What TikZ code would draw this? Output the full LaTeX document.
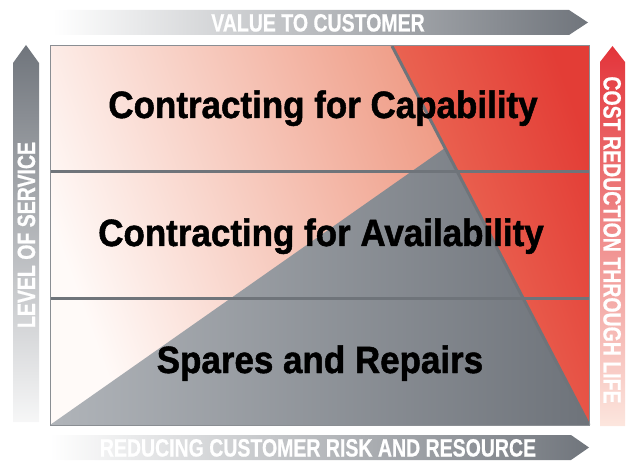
\documentclass[tikz,border=0pt]{standalone}
\usepackage{fontspec}
\setmainfont{Liberation Sans}
\newfontfamily\mainlab[FakeStretch=0.92,FakeBold=1.3]{Liberation Sans Bold}
\newfontfamily\arrlab[FakeStretch=0.78,FakeBold=0.6]{Liberation Sans Bold}
\definecolor{bgwhite}{HTML}{FFFAF8}
\definecolor{bgsalmon}{HTML}{EB8469}
\definecolor{redlight}{HTML}{EE7B62}
\definecolor{reddark}{HTML}{E33D36}
\definecolor{trilight}{HTML}{B0B4B9}
\definecolor{tridark}{HTML}{6E737A}
\definecolor{divgray}{HTML}{6F747A}
\definecolor{outlinegray}{HTML}{8A8E93}
\definecolor{arrgray}{HTML}{70757C}
\definecolor{arrmid}{HTML}{AAAEB3}
\definecolor{arrmidv}{HTML}{9DA1A7}
\definecolor{redtop}{HTML}{E3343A}
\definecolor{redmid}{HTML}{EE7A66}
\definecolor{redbottom}{HTML}{FCE6DE}
\begin{document}
\begin{tikzpicture}[x=1pt,y=1pt,
  biglabel/.style={font=\mainlab\fontsize{38}{38}\selectfont, text=black, inner sep=0pt, anchor=base},
  arrowlabel/.style={font=\arrlab\fontsize{25}{25}\selectfont, text=white, inner sep=0pt, anchor=base},
  divider/.style={draw=divgray, line width=3pt},
]
\useasboundingbox (0,0) rectangle (629,461);
% background of the grid
\path[left color=bgwhite, right color=bgsalmon, shading angle=110] (50,36) rectangle (589,415);
% red region
\path[left color=redlight, right color=reddark, shading angle=110] (392,415) -- (589,415) -- (589,36) -- cycle;
% grey triangle
\path[left color=trilight, right color=tridark] (50,36) -- (445,313) -- (589,36) -- cycle;
% dividers
\draw[divider] (50,289) -- (589,289);
\draw[divider] (50,163) -- (589,163);
\draw[divider] (392,415) -- (589,36);
\draw[draw=outlinegray, line width=1pt] (50,36) rectangle (589,415);
% arrows
\path[left color=white, middle color=arrmid, right color=arrgray] (53,426) -- (569,426) -- (588,438.5) -- (569,451) -- (53,451) -- cycle;
\path[left color=white, middle color=arrmid, right color=arrgray] (50,1) -- (571,1) -- (589,13.5) -- (571,26) -- (50,26) -- cycle;
\path[top color=arrgray, middle color=arrmidv, bottom color=white!94!arrgray] (13,39) -- (13,398) -- (26,416) -- (39,398) -- (39,39) -- cycle;
\path[top color=redtop, middle color=redmid, bottom color=redbottom] (600,35) -- (600,399) -- (612.5,415) -- (625,399) -- (625,35) -- cycle;
% labels
\node[biglabel] (cap) at (323,343) {Contracting for Capability};
\node[biglabel] (avail) at (321,215) {Contracting for Availability};
\node[biglabel] (spares) at (320,88) {Spares and Repairs};
\node[arrowlabel] (value) at (318,429.5) {VALUE TO CUSTOMER};
\node[arrowlabel] (risk) at (318,4.5) {REDUCING CUSTOMER RISK AND RESOURCE};
\node[arrowlabel, rotate=90] (service) at (35,226) {LEVEL OF SERVICE};
\node[arrowlabel, rotate=-90] (cost) at (603.5,221) {COST REDUCTION THROUGH LIFE};
\end{tikzpicture}
\end{document}
